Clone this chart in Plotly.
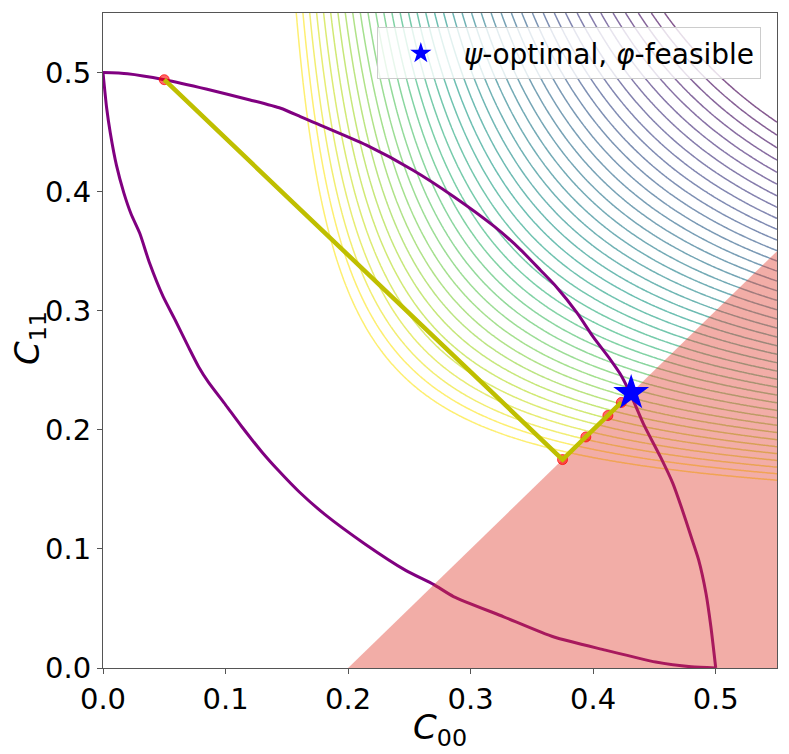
import numpy as np
import plotly.graph_objects as go

# ---- data ----
upper_x = [0.000, 0.020, 0.050, 0.085, 0.120, 0.145, 0.161, 0.170, 0.215, 0.253, 0.286, 0.319,
           0.340, 0.357, 0.370, 0.387, 0.400, 0.414, 0.422, 0.430, 0.441, 0.455, 0.465,
           0.472, 0.480, 0.486, 0.492, 0.496, 0.500]
upper_y = [0.500, 0.499, 0.494, 0.486, 0.477, 0.470, 0.463, 0.459, 0.439, 0.418, 0.396, 0.371,
           0.352, 0.334, 0.320, 0.298, 0.278, 0.259, 0.247, 0.231, 0.205, 0.177, 0.155,
           0.135, 0.110, 0.091, 0.063, 0.035, 0.000]

lower_x = [0.000, 0.003, 0.006, 0.011, 0.017, 0.023, 0.030, 0.038, 0.049, 0.059, 0.070, 0.078,
           0.086, 0.100, 0.113, 0.130, 0.143, 0.160, 0.181, 0.214, 0.247, 0.270, 0.286,
           0.327, 0.368, 0.410, 0.451, 0.480, 0.500]
lower_y = [0.500, 0.470, 0.449, 0.422, 0.399, 0.381, 0.365, 0.340, 0.312, 0.292, 0.269, 0.253,
           0.240, 0.221, 0.203, 0.181, 0.166, 0.148, 0.129, 0.104, 0.082, 0.070, 0.060,
           0.043, 0.026, 0.015, 0.005, 0.001, 0.000]

# constraint (phi-infeasible) region
region_x = [0.20, 0.55, 0.55, 0.20]
region_y = [0.00, 0.35, 0.00, 0.00]

# iterates of the algorithm
path_x = [0.050, 0.375, 0.394, 0.412, 0.423]
path_y = [0.494, 0.175, 0.194, 0.212, 0.223]

# psi-optimal, phi-feasible point
star_x = [0.431]
star_y = [0.231]

# psi = 1 - H-mean(TPR, TNR) contour levels: first, last, step
psi_levels = dict(start=0.0, end=0.512, size=0.01307)
psi_color_range = [0.0, 0.5097]

# ---- psi surface on a grid ----
gx = np.linspace(0.001, 0.55, 332)
gy = np.linspace(0.001, 0.55, 332)
GX, GY = np.meshgrid(gx, gy)
Z = 1 - 4 * GX * GY / (GX + GY)

FONT = "DejaVu Sans"
fig = go.Figure()

fig.add_trace(go.Contour(
    x=gx, y=gy, z=Z,
    contours=dict(coloring="lines", start=psi_levels["start"], end=psi_levels["end"],
                  size=psi_levels["size"]),
    colorscale="Viridis", zmin=psi_color_range[0], zmax=psi_color_range[1],
    line=dict(width=1.5), opacity=0.65, showscale=False, showlegend=False,
    hoverinfo="skip"))

fig.add_trace(go.Scatter(x=upper_x, y=upper_y, mode="lines",
                         line=dict(color="#800080", width=3, shape="spline", smoothing=0.6),
                         showlegend=False))
fig.add_trace(go.Scatter(x=lower_x, y=lower_y, mode="lines",
                         line=dict(color="#800080", width=3, shape="spline", smoothing=0.6),
                         showlegend=False))

fig.add_trace(go.Scatter(x=region_x, y=region_y, mode="lines", fill="toself",
                         fillcolor="rgba(225,60,45,0.42)", line=dict(width=0),
                         showlegend=False, hoverinfo="skip"))

fig.add_trace(go.Scatter(x=path_x, y=path_y, mode="markers",
                         marker=dict(color="rgba(255,0,0,0.6)", size=10,
                                     line=dict(color="rgba(255,0,0,0.7)", width=1)),
                         showlegend=False))
fig.add_trace(go.Scatter(x=path_x, y=path_y, mode="lines",
                         line=dict(color="#bfbf00", width=4.5), showlegend=False))

fig.add_trace(go.Scatter(x=star_x, y=star_y, mode="markers",
                         marker=dict(symbol="star", color="blue", size=27,
                                     line=dict(width=0)),
                         name="<i>ψ</i>-optimal, <i>φ</i>-feasible"))

axis_common = dict(
    range=[0, 0.55], tickvals=[0, 0.1, 0.2, 0.3, 0.4, 0.5], tickformat=".1f",
    showline=True, linecolor="#555555", linewidth=1.2, mirror=True,
    ticks="outside", ticklen=5, tickwidth=1.2, tickcolor="#555555",
    showgrid=False, zeroline=False,
    tickfont=dict(family=FONT, size=29, color="black"),
)

fig.update_layout(
    width=781, height=746,
    margin=dict(l=95, r=12, t=5, b=86),
    plot_bgcolor="white", paper_bgcolor="white",
    font=dict(family=FONT, color="black"),
    xaxis=dict(**axis_common),
    yaxis=dict(**axis_common),
    legend=dict(x=0.976, y=0.978, xanchor="right", yanchor="top",
                bgcolor="rgba(255,255,255,0.8)", bordercolor="#cccccc", borderwidth=1,
                font=dict(family=FONT, size=28), itemwidth=76),
    showlegend=True,
    annotations=[
        dict(text="<i>C</i><sub>00</sub>", xref="paper", yref="paper",
             x=0.5, y=-0.094, xanchor="center", yanchor="middle", showarrow=False,
             font=dict(family=FONT, size=34, color="black")),
        dict(text="<i>C</i><sub>11</sub>", xref="paper", yref="paper",
             x=-0.108, y=0.504, xanchor="center", yanchor="middle", showarrow=False,
             textangle=-90, font=dict(family=FONT, size=34, color="black")),
    ],
)

fig.write_html("out.html")
